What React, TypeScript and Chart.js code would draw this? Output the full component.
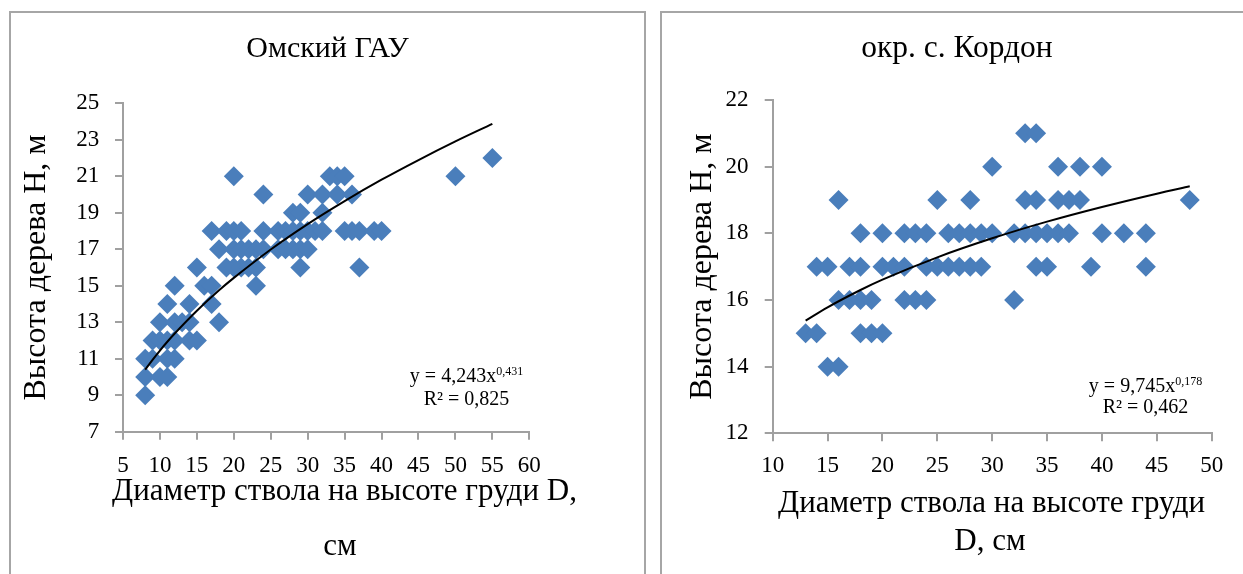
import React, { useEffect, useRef } from 'react';
import { Chart, registerables } from 'chart.js';

Chart.register(...registerables);

const FONT = '"Liberation Serif", "Times New Roman", Times, serif';
const MARKER = '#4A7EBB';
const AXIS_GREY = '#A0A0A0';
const TEXT = '#000000';

// ---------- Омский ГАУ ----------
const omskTitle = 'Омский ГАУ';
const omskXTitle = ['Диаметр ствола на высоте груди D,', 'см'];
const omskYTitle = 'Высота дерева Н, м';
const omskXTicks = [5, 10, 15, 20, 25, 30, 35, 40, 45, 50, 55, 60];
const omskYTicks = [7, 9, 11, 13, 15, 17, 19, 21, 23, 25];
const omskD = [
  8,
  8, 10, 11,
  8, 9, 11, 12,
  9, 10, 11, 12, 14, 15,
  10, 12, 13, 14, 18,
  11, 14, 17,
  12, 16, 17, 23,
  15, 19, 20, 21, 22, 23, 29, 37,
  18, 20, 21, 22, 23, 24, 26, 27, 28, 29, 30,
  17, 19, 20, 21, 24, 26, 27, 28, 29, 30, 31, 32, 35, 36, 37, 39, 40,
  28, 29, 32,
  24, 30, 32, 34, 36,
  20, 33, 34, 35, 50,
  55,
];
const omskH = [
  9,
  10, 10, 10,
  11, 11, 11, 11,
  12, 12, 12, 12, 12, 12,
  13, 13, 13, 13, 13,
  14, 14, 14,
  15, 15, 15, 15,
  16, 16, 16, 16, 16, 16, 16, 16,
  17, 17, 17, 17, 17, 17, 17, 17, 17, 17, 17,
  18, 18, 18, 18, 18, 18, 18, 18, 18, 18, 18, 18, 18, 18, 18, 18, 18,
  19, 19, 19,
  20, 20, 20, 20, 20,
  21, 21, 21, 21, 21,
  22,
];
const omskTrendD = [8, 9, 10, 11, 12, 15, 18, 20, 25, 30, 35, 40, 45, 50, 55];
const omskTrendH = [10.4, 10.94, 11.45, 11.93, 12.38, 13.63, 14.75, 15.43, 16.99, 18.38, 19.64, 20.81, 21.89, 22.91, 23.87];
const omskEquation = 'y = 4,243x';
const omskExponent = '0,431';
const omskR2 = 'R² = 0,825';

// ---------- окр. с. Кордон ----------
const kordonTitle = 'окр. с. Кордон';
const kordonXTitle = ['Диаметр ствола на высоте груди', 'D, см'];
const kordonYTitle = 'Высота дерева Н, м';
const kordonXTicks = [10, 15, 20, 25, 30, 35, 40, 45, 50];
const kordonYTicks = [12, 14, 16, 18, 20, 22];
const kordonD = [
  15, 16,
  13, 14, 18, 19, 20,
  16, 17, 18, 19, 22, 23, 24, 32,
  14, 15, 17, 18, 20, 21, 22, 24, 25, 26, 27, 28, 29, 34, 35, 39, 44,
  18, 20, 22, 23, 24, 26, 27, 28, 29, 30, 32, 33, 34, 35, 36, 37, 40, 42, 44,
  16, 25, 28, 33, 34, 36, 37, 38, 48,
  30, 36, 38, 40,
  33, 34,
];
const kordonH = [
  14, 14,
  15, 15, 15, 15, 15,
  16, 16, 16, 16, 16, 16, 16, 16,
  17, 17, 17, 17, 17, 17, 17, 17, 17, 17, 17, 17, 17, 17, 17, 17, 17,
  18, 18, 18, 18, 18, 18, 18, 18, 18, 18, 18, 18, 18, 18, 18, 18, 18, 18, 18,
  19, 19, 19, 19, 19, 19, 19, 19, 19,
  20, 20, 20, 20,
  21, 21,
];
const kordonTrendD = [13, 15, 18, 20, 25, 30, 35, 40, 45, 48];
const kordonTrendH = [15.38, 15.78, 16.3, 16.61, 17.28, 17.85, 18.35, 18.79, 19.19, 19.41];
const kordonEquation = 'y = 9,745x';
const kordonExponent = '0,178';
const kordonR2 = 'R² = 0,462';

type Panel = {
  title: string;
  xTitle: string[];
  yTitle: string;
  xTicks: number[];
  yTicks: number[];
  D: number[];
  H: number[];
  trendD: number[];
  trendH: number[];
  eq: string;
  exp: string;
  r2: string;
  // layout (canvas pixels)
  padLeft: number;
  areaRightGap: number;
  yScaleW: number;
  xScaleH: number;
  titleSize: number;
  titleTop: number;
  titleBottom: number;
  xTickPad: number;
  yTickPad: number;
  yTitleTop: number;
  xTitlePos: { x: number; y: number }[];
  eqX: number;
  eqY1: number;
  eqY2: number;
};

const omskPanel: Panel = {
  title: omskTitle, xTitle: omskXTitle, yTitle: omskYTitle,
  xTicks: omskXTicks, yTicks: omskYTicks, D: omskD, H: omskH,
  trendD: omskTrendD, trendH: omskTrendH,
  eq: omskEquation, exp: omskExponent, r2: omskR2,
  padLeft: 0, areaRightGap: 113.7, yScaleW: 111, xScaleH: 142.3,
  titleSize: 30, titleTop: 17, titleBottom: 36.3,
  xTickPad: 12, yTickPad: 15.7,
  yTitleTop: 5,
  xTitlePos: [{ x: 332.5, y: 477.5 }, { x: 328, y: 533 }],
  eqX: 454.5, eqY1: 367.7, eqY2: 391,
};

const kordonPanel: Panel = {
  title: kordonTitle, xTitle: kordonXTitle, yTitle: kordonYTitle,
  xTicks: kordonXTicks, yTicks: kordonYTicks, D: kordonD, H: kordonH,
  trendD: kordonTrendD, trendH: kordonTrendH,
  eq: kordonEquation, exp: kordonExponent, r2: kordonR2,
  padLeft: 8, areaRightGap: 31.3, yScaleW: 101.7, xScaleH: 140.7,
  titleSize: 31.5, titleTop: 16, titleBottom: 32.2,
  xTickPad: 10.4, yTickPad: 16.1,
  yTitleTop: 12.5,
  xTitlePos: [{ x: 328.5, y: 490 }, { x: 327, y: 527.5 }],
  eqX: 482.5, eqY1: 377.7, eqY2: 399.3,
};

const equationPlugin = {
  id: 'equationLabel',
  afterDatasetsDraw(chart: any, _args: any, opts: any) {
    const ctx = chart.ctx as CanvasRenderingContext2D;
    const mainFont = `20px ${FONT}`;
    const supFont = `12px ${FONT}`;
    ctx.save();
    ctx.fillStyle = TEXT;
    ctx.textBaseline = 'alphabetic';
    ctx.textAlign = 'left';
    ctx.font = mainFont;
    const wMain = ctx.measureText(opts.eq).width;
    ctx.font = supFont;
    const wSup = ctx.measureText(opts.exp).width;
    const x0 = opts.x - (wMain + wSup) / 2;
    ctx.font = mainFont;
    ctx.fillText(opts.eq, x0, opts.y1);
    ctx.font = supFont;
    ctx.fillText(opts.exp, x0 + wMain, opts.y1 - 7);
    ctx.font = mainFont;
    ctx.textAlign = 'center';
    ctx.fillText(opts.r2, opts.x, opts.y2);
    ctx.restore();
  },
};

const xTitlePlugin = {
  id: 'xAxisTitle',
  afterDraw(chart: any, _args: any, opts: any) {
    const ctx = chart.ctx as CanvasRenderingContext2D;
    ctx.save();
    ctx.fillStyle = TEXT;
    ctx.font = `31px ${FONT}`;
    ctx.textAlign = 'center';
    ctx.textBaseline = 'middle';
    (opts.lines as string[]).forEach((line, i) => {
      const pos = opts.pos[i];
      ctx.fillText(line, pos.x, pos.y);
    });
    ctx.restore();
  },
};

function buildChart(canvas: HTMLCanvasElement, p: Panel) {
  const axisCommon = {
    type: 'linear' as const,
    border: { display: true, color: AXIS_GREY, width: 2 },
    grid: { drawOnChartArea: false, drawTicks: true, tickLength: 8, color: AXIS_GREY, lineWidth: 2 },
  };
  return new Chart(canvas, {
    type: 'scatter',
    data: {
      datasets: [
        {
          type: 'line',
          data: p.trendD.map((x, i) => ({ x, y: p.trendH[i] })),
          borderColor: '#000000',
          borderWidth: 2,
          pointRadius: 0,
          fill: false,
          cubicInterpolationMode: 'monotone',
          order: 0,
          clip: false,
        } as any,
        {
          type: 'scatter',
          data: p.D.map((x, i) => ({ x, y: p.H[i] })),
          pointStyle: 'rectRot',
          pointRadius: 10,
          backgroundColor: MARKER,
          borderColor: MARKER,
          borderWidth: 0,
          order: 1,
          clip: false,
        } as any,
      ],
    },
    options: {
      responsive: false,
      animation: false,
      devicePixelRatio: 1,
      layout: { padding: { left: p.padLeft, right: 0, top: 0, bottom: 0 } },
      plugins: {
        legend: { display: false },
        tooltip: { enabled: false },
        title: {
          display: true,
          text: p.title,
          color: TEXT,
          font: { family: FONT, size: p.titleSize, weight: 'normal', lineHeight: 1.2 },
          padding: { top: p.titleTop, bottom: p.titleBottom },
        },
        equationLabel: { eq: p.eq, exp: p.exp, r2: p.r2, x: p.eqX, y1: p.eqY1, y2: p.eqY2 },
        xAxisTitle: { lines: p.xTitle, pos: p.xTitlePos },
      } as any,
      scales: {
        x: {
          ...axisCommon,
          min: p.xTicks[0],
          max: p.xTicks[p.xTicks.length - 1],
          afterBuildTicks: (s: any) => { s.ticks = p.xTicks.map((v) => ({ value: v })); },
          afterFit: (s: any) => {
            s.height = p.xScaleH;
            s.paddingRight = p.areaRightGap;
          },
          ticks: { color: TEXT, font: { family: FONT, size: 23 }, padding: p.xTickPad, maxRotation: 0, autoSkip: false },
          title: { display: false },
        },
        y: {
          ...axisCommon,
          min: p.yTicks[0],
          max: p.yTicks[p.yTicks.length - 1],
          afterBuildTicks: (s: any) => { s.ticks = p.yTicks.map((v) => ({ value: v })); },
          afterFit: (s: any) => { s.width = p.yScaleW; },
          ticks: { color: TEXT, font: { family: FONT, size: 23 }, padding: p.yTickPad, autoSkip: false },
          title: {
            display: true,
            text: p.yTitle,
            color: TEXT,
            font: { family: FONT, size: 32, lineHeight: 1.2 },
            padding: { top: p.yTitleTop, bottom: 0 },
          },
        },
      } as any,
    },
    plugins: [equationPlugin, xTitlePlugin],
  } as any);
}

export default function App() {
  const leftRef = useRef<HTMLCanvasElement>(null);
  const rightRef = useRef<HTMLCanvasElement>(null);

  useEffect(() => {
    const a = buildChart(leftRef.current as HTMLCanvasElement, omskPanel);
    const b = buildChart(rightRef.current as HTMLCanvasElement, kordonPanel);
    return () => {
      a.destroy();
      b.destroy();
    };
  }, []);

  const frame = {
    position: 'absolute' as const,
    top: 11,
    height: 640,
    border: '2px solid #A6A6A6',
    boxSizing: 'border-box' as const,
  };

  return (
    <div style={{ position: 'fixed', left: 0, top: 0, width: 1243, height: 574, background: '#ffffff', overflow: 'hidden' }}>
      <div style={{ ...frame, left: 9, width: 637 }} />
      <div style={{ ...frame, left: 660, width: 640 }} />
      <canvas ref={leftRef} width={631} height={560} style={{ position: 'absolute', left: 12, top: 14, width: 631, height: 560 }} />
      <canvas ref={rightRef} width={580} height={560} style={{ position: 'absolute', left: 663, top: 14, width: 580, height: 560 }} />
    </div>
  );
}
